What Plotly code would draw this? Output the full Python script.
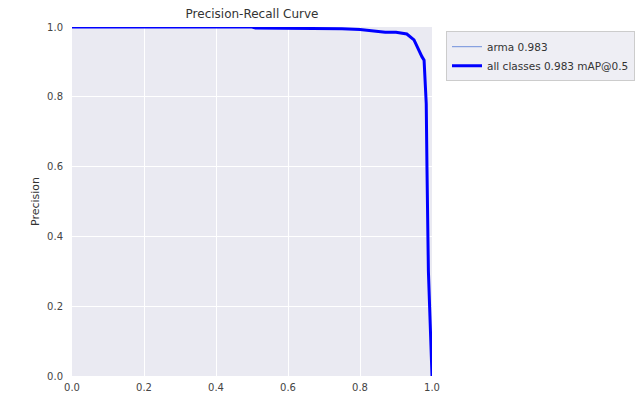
import plotly.graph_objects as go

recall = [0.0, 0.1, 0.2, 0.3, 0.4, 0.5, 0.51, 0.6, 0.63, 0.7, 0.75, 0.8, 0.83, 0.853, 0.87, 0.9, 0.93,
          0.95, 0.958, 0.964, 0.969, 0.972, 0.978, 0.98, 0.982, 0.984, 0.986, 0.987, 0.988, 0.99, 0.995, 1.0]
precision = [1.0, 1.0, 1.0, 1.0, 1.0, 1.0, 0.997, 0.997, 0.997, 0.996, 0.995, 0.993, 0.99, 0.986, 0.985, 0.985, 0.98,
             0.963, 0.944, 0.93, 0.92, 0.915, 0.905, 0.86, 0.81, 0.78, 0.60, 0.456, 0.45, 0.30, 0.15, 0.0]

class_name = "arma"
class_ap = 0.983
map50 = 0.983

fig = go.Figure()
fig.add_trace(go.Scatter(x=recall, y=precision, mode="lines",
                         line=dict(color="#6f8fdc", width=1),
                         name=f"{class_name} {class_ap:.3f}"))
fig.add_trace(go.Scatter(x=recall, y=precision, mode="lines",
                         line=dict(color="#0000ff", width=3),
                         name=f"all classes {map50:.3f} mAP@0.5"))

axis_common = dict(range=[0, 1], showgrid=True, gridcolor="white", gridwidth=1,
                   zeroline=False, showline=False, ticks="",
                   tickfont=dict(family="DejaVu Sans", size=10, color="#444444"),
                   tickformat=".1f", dtick=0.2)

fig.update_layout(
    width=635, height=398,
    margin=dict(l=72, r=203, t=27, b=22, autoexpand=False),
    paper_bgcolor="white", plot_bgcolor="#EAEAF2",
    font=dict(family="DejaVu Sans", color="#333333"),
    title=dict(text="Precision-Recall Curve", x=(72+180)/635, xanchor="center",
               y=1 - 14/398, yanchor="middle",
               font=dict(size=12, color="#333333")),
    xaxis=dict(**axis_common, ticklabelstandoff=4),
    yaxis=dict(**axis_common, ticklabelstandoff=8,
               title=dict(text="Precision", font=dict(size=11, color="#333333"), standoff=5)),
    legend=dict(x=(446-72)/360, xanchor="left", y=0.988, yanchor="top",
                bgcolor="#EEEEF4", bordercolor="#CCCCCC", borderwidth=1,
                font=dict(size=10.5, color="#333333"), tracegroupgap=0,
                itemwidth=30),
    showlegend=True,
)

fig.write_html("out.html")
